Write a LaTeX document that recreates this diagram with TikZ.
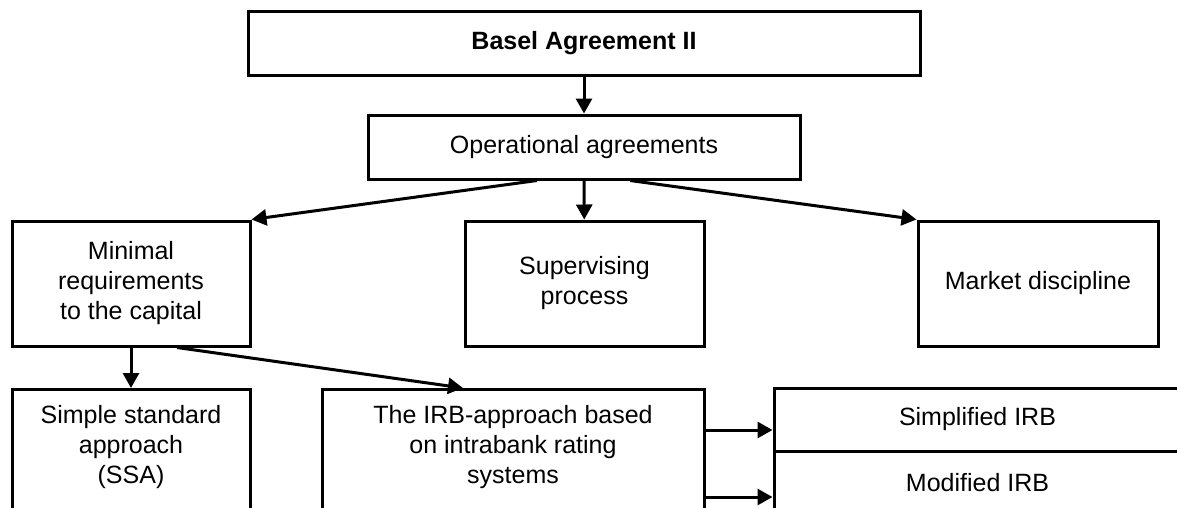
\documentclass[tikz,border=0pt]{standalone}
\usepackage{fontspec}
\setmainfont{Liberation Sans}
\usetikzlibrary{arrows.meta}
\tikzset{
	box/.style={draw, line width=3pt, inner sep=0pt, align=center},
	cutbox/.style={box, anchor=north, inner ysep=16pt, text depth=110pt},
	arr/.style={line width=3pt, -{Triangle[length=15pt,width=16pt]}}
}

\begin{document}
\begin{tikzpicture}[x=1pt, y=-1pt, every node/.style={font=\fontsize{25}{30}\selectfont}]
			\clip (0,0) rectangle (1177,507);
			
			\node[box, minimum width=672, minimum height=64] (basel) at (584,43) {\textbf{Basel Agreement II}};
			\node[box, minimum width=432, minimum height=64] (oper) at (584,147) {Operational agreements};
			
			\node[box, minimum width=238, minimum height=125] (mrc) at (131,283.5) {Minimal\\requirements\\to the capital};
			\node[box, minimum width=239, minimum height=125] (sup) at (584.5,283.5) {Supervising\\process};
			\node[box, minimum width=240, minimum height=125] (mkt) at (1038,283.5) {Market discipline};
			
			\node[cutbox, minimum width=238] (ssa) at (131,388) {Simple standard\\approach\\(SSA)};
			\node[cutbox, minimum width=382] (irb) at (513,388) {The IRB-approach based\\on intrabank rating\\systems};
			\node[box, outer sep=0pt, minimum width=407, minimum height=63] (sirb) at (977.5,419.5) {Simplified IRB};
			\node[box, outer sep=0pt, minimum width=407, minimum height=63, anchor=north] (mirb) at (sirb.south) {Modified IRB};
			
			\coordinate (s1) at ([yshift=-42]irb.north east);
			\coordinate (s2) at ([yshift=-109]irb.north east);
			
			\draw[arr] (basel) -- (oper);
			\draw[arr] ([xshift=-47]oper.south) -- (mrc.north east);
			\draw[arr] (oper) -- (sup);
			\draw[arr] ([xshift=46]oper.south) -- (mkt.north west);
			\draw[arr] (mrc) -- (ssa);
			\draw[arr] ([xshift=46]mrc.south) -- ([xshift=-50]irb.north);
			\draw[arr] (s1) -- ([xshift=-1.5]s1 -| sirb.west);
			\draw[arr] (s2) -- ([xshift=-1.5]s2 -| mirb.west);
\end{tikzpicture}
\end{document}
